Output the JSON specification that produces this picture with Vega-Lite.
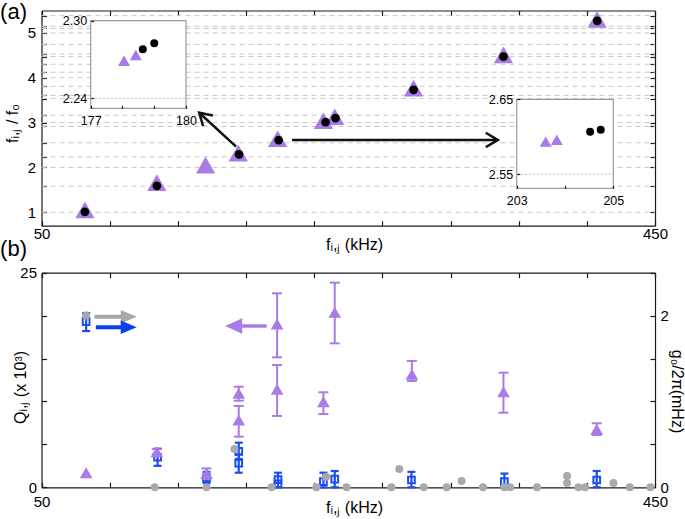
{
"$schema": "https://vega.github.io/schema/vega-lite/v6.json",
"width": 685, "height": 519, "autosize": "none", "padding": 0,
"background": "white",
"config": {
  "view": {"stroke": null},
  "font": "Liberation Sans",
  "axis": {"grid": false, "domainColor": "#1a1a1a", "domainWidth": 1.2, "tickColor": "#1a1a1a", "tickWidth": 1.2, "tickSize": -5,
    "labelFont": "Liberation Sans", "labelFontSize": 15, "labelColor": "#000000",
    "titleFont": "Liberation Sans", "titleFontSize": 16, "titleFontWeight": "normal", "titleColor": "#000000",
    "labelOverlap": false, "labelFlush": false, "labelBound": false, "labelPadding": 10}
},
"datasets": {
  "theory": [{"r":1},{"r":1.581},{"r":2},{"r":2.236},{"r":2.55},{"r":2.915},{"r":3},{"r":3.162},{"r":3.536},{"r":3.606},{"r":3.808},{"r":4},{"r":4.123},{"r":4.301},{"r":4.472},{"r":4.528},{"r":4.743},{"r":5},{"r":5.099},{"r":5.148},{"r":5.385}],
  "triA": [{"f":78.3,"r":1.05},{"f":125.2,"r":1.66},{"f":157.0,"r":2.05},{"f":178.3,"r":2.32},{"f":204.0,"r":2.64},{"f":233.8,"r":3.04},{"f":241.2,"r":3.13},{"f":292.6,"r":3.77},{"f":351.2,"r":4.51},{"f":412.3,"r":5.3}],
  "circA": [{"f":78.3,"r":1.01},{"f":125.2,"r":1.59},{"f":178.8,"r":2.29},{"f":204.6,"r":2.61},{"f":235.2,"r":3.01},{"f":241.7,"r":3.1},{"f":292.6,"r":3.73},{"f":351.2,"r":4.47},{"f":412.3,"r":5.27}],
  "arrowsA": [{"f1":176.9,"r1":2.462,"f2":152.8,"r2":3.22,"ang":222.6},{"f1":213.3,"r1":2.612,"f2":347.5,"r2":2.612,"ang":0}],
  "panelLabels": [{"t":"(a)","f":23,"r":5.47},{"t":"(b)","f":23,"r":0.18}],
  "ins1frame": [{"x0":177,"x1":180,"y0":2.2323,"y1":2.3}],
  "ins1ref": [{"r":2.24}],
  "ins1t": [{"f":178.05,"r":2.269},{"f":178.42,"r":2.2735}],
  "ins1c": [{"f":178.64,"r":2.2779},{"f":179.0,"r":2.2825}],
  "ins2frame": [{"x0":203,"x1":205,"y0":2.5313,"y1":2.65}],
  "ins2ref": [{"r":2.55}],
  "ins2t": [{"f":203.6,"r":2.5935},{"f":203.83,"r":2.5961}],
  "ins2c": [{"f":204.52,"r":2.6068},{"f":204.74,"r":2.6093}],
  "Q": [{"f":79.1,"q":1.7},{"f":125.2,"q":4.15},{"f":157.6,"q":1.63},{"f":178.6,"q":10.95},{"f":178.6,"q":7.84},{"f":203.6,"q":19.02},{"f":203.6,"q":11.42},{"f":233.8,"q":9.97},{"f":241.2,"q":20.38},{"f":291.5,"q":13.16},{"f":351.2,"q":11.14},{"f":412.0,"q":6.76}],
  "QErr": [{"f":125.2,"lo":3.85,"hi":4.45},{"f":157.6,"lo":1.0,"hi":2.2},{"f":178.6,"lo":10.09,"hi":11.72},{"f":178.6,"lo":5.9,"hi":9.47},{"f":203.6,"lo":15.14,"hi":22.6},{"f":203.6,"lo":8.31,"hi":14.25},{"f":233.8,"lo":8.54,"hi":11.07},{"f":241.2,"lo":16.77,"hi":23.84},{"f":291.5,"lo":12.38,"hi":14.72},{"f":351.2,"lo":8.69,"hi":13.35},{"f":412.0,"lo":6.09,"hi":7.46}],
  "G": [{"f":79.1,"g":1.93},{"f":125.7,"g":0.35},{"f":157.6,"g":0.11},{"f":178.6,"g":0.42},{"f":178.6,"g":0.28},{"f":204.2,"g":0.09},{"f":204.2,"g":0.04},{"f":233.8,"g":0.065},{"f":241.2,"g":0.095},{"f":291.2,"g":0.085},{"f":351.8,"g":0.065},{"f":412.0,"g":0.085}],
  "GErr": [{"f":79.1,"lo":1.82,"hi":2.03},{"f":125.7,"lo":0.25,"hi":0.45},{"f":157.6,"lo":0.05,"hi":0.18},{"f":178.6,"lo":0.33,"hi":0.52},{"f":178.6,"lo":0.17,"hi":0.38},{"f":204.2,"lo":0.0,"hi":0.17},{"f":233.8,"lo":0.0,"hi":0.17},{"f":241.2,"lo":0.0,"hi":0.19},{"f":291.2,"lo":0.0,"hi":0.18},{"f":351.8,"lo":0.0,"hi":0.16},{"f":412.0,"lo":0.0,"hi":0.19}],
  "gray": [{"f":79.1,"g":2.0},{"f":123.8,"g":0},{"f":157.6,"g":0},{"f":175.8,"g":0.446},{"f":200.0,"g":0},{"f":229.2,"g":0},{"f":235.5,"g":0.124},{"f":248.9,"g":0},{"f":278.1,"g":0},{"f":283.3,"g":0.213},{"f":299.2,"g":0},{"f":314.2,"g":0},{"f":323.9,"g":0.073},{"f":337.8,"g":0},{"f":351.8,"g":0},{"f":355.5,"g":0},{"f":373.1,"g":0},{"f":392.7,"g":0.132},{"f":392.7,"g":0.05},{"f":400.1,"g":0},{"f":404.4,"g":0},{"f":422.9,"g":0.05},{"f":433.6,"g":0},{"f":447.0,"g":0}],
  "arrowGray": [{"f1":84.5,"f2":104,"fh":106.9,"g":1.987}],
  "arrowBlue": [{"f1":85.4,"f2":104,"fh":106.9,"g":1.864}],
  "arrowPurple": [{"f1":196.8,"f2":178,"fh":175.3,"q":18.79}]
},
"layer": [
  {
    "layer": [
      {"data":{"name":"theory"},"mark":{"type":"rule","color":"#c8c8c8","strokeWidth":1,"strokeDash":[5,4]},
       "encoding":{"x":{"datum":50,"type":"quantitative","scale":{"domain":[50,450],"range":[41.5,655],"nice":false,"zero":false},"axis":null},"x2":{"datum":450},
                   "y":{"field":"r","type":"quantitative","scale":{"domain":[0.7,5.5],"range":[225.7,10.5],"nice":false,"zero":false},"axis":null}}},
      {"data":{"name":"arrowsA"},"mark":{"type":"rule","color":"#111111","strokeWidth":2.5},
       "encoding":{"x":{"field":"f1","type":"quantitative","scale":{"domain":[50,450],"range":[41.5,655],"nice":false,"zero":false},"axis":null},"x2":{"field":"f2"},
                   "y":{"field":"r1","type":"quantitative","scale":{"domain":[0.7,5.5],"range":[225.7,10.5],"nice":false,"zero":false},"axis":null},"y2":{"field":"r2"}}},
      {"data":{"name":"arrowsA"},"mark":{"type":"point","shape":"M-1,-0.6L0,0L-1,0.6","filled":false,"color":"#111111","strokeWidth":2.5,"size":576,"opacity":1},
       "encoding":{"x":{"field":"f2","type":"quantitative","scale":{"domain":[50,450],"range":[41.5,655],"nice":false,"zero":false},"axis":null},
                   "y":{"field":"r2","type":"quantitative","scale":{"domain":[0.7,5.5],"range":[225.7,10.5],"nice":false,"zero":false},"axis":null},
                   "angle":{"field":"ang","type":"quantitative","scale":null}}},
      {"data":{"name":"triA"},"mark":{"type":"point","shape":"triangle-up","filled":true,"color":"#A97BE6","size":370,"opacity":1},
       "encoding":{"x":{"field":"f","type":"quantitative","scale":{"domain":[50,450],"range":[41.5,655],"nice":false,"zero":false},
                        "axis":{"orient":"bottom","offset":-293.3,"values":[50,94.444,138.889,183.333,227.778,272.222,316.667,361.111,405.556,450],"labelExpr":"datum.value == 50 ? '50' : (datum.value == 450 ? '450' : '')","labelPadding":6,"title":"fᵢ,ⱼ (kHz)","titleX":354,"titleY":11,"titleBaseline":"top","titleAlign":"center"}},
                   "y":{"field":"r","type":"quantitative","scale":{"domain":[0.7,5.5],"range":[225.7,10.5],"nice":false,"zero":false},
                        "axis":{"orient":"left","offset":-41.5,"values":[1,1.581,2,2.236,2.55,2.915,3,3.162,3.536,3.606,3.808,4,4.123,4.301,4.472,4.528,4.743,5,5.099,5.148,5.385],"labelExpr":"floor(datum.value) == datum.value ? format(datum.value, 'd') : ''","labelPadding":11,"title":"fᵢ,ⱼ / f₀","titleX":-29,"titleY":123,"titleAngle":-90,"titleBaseline":"middle","titleAlign":"center"}}}},
      {"data":{"name":"circA"},"mark":{"type":"point","shape":"circle","filled":true,"color":"#000000","size":76,"opacity":1},
       "encoding":{"x":{"field":"f","type":"quantitative","scale":{"domain":[50,450],"range":[41.5,655],"nice":false,"zero":false},
                        "axis":{"orient":"top","offset":-10.5,"values":[50,94.444,138.889,183.333,227.778,272.222,316.667,361.111,405.556,450],"labels":false,"title":null}},
                   "y":{"field":"r","type":"quantitative","scale":{"domain":[0.7,5.5],"range":[225.7,10.5],"nice":false,"zero":false},
                        "axis":{"orient":"right","offset":-30,"values":[1,1.581,2,2.236,2.55,2.915,3,3.162,3.536,3.606,3.808,4,4.123,4.301,4.472,4.528,4.743,5,5.099,5.148,5.385],"labels":false,"title":null}}}},
      {"data":{"name":"panelLabels"},"mark":{"type":"text","align":"left","baseline":"middle","fontSize":22,"font":"Liberation Sans","color":"#000000"},
       "encoding":{"x":{"field":"f","type":"quantitative","scale":{"domain":[50,450],"range":[41.5,655],"nice":false,"zero":false},"axis":null},
                   "y":{"field":"r","type":"quantitative","scale":{"domain":[0.7,5.5],"range":[225.7,10.5],"nice":false,"zero":false},"axis":null},
                   "text":{"field":"t"}}}
    ],
    "resolve": {"axis": {"x": "independent", "y": "independent"}}
  },
  {
    "layer": [
      {"data":{"name":"ins1frame"},"mark":{"type":"rect","fill":"white","stroke":"#9a9a9a","strokeWidth":1.2},
       "encoding":{"x":{"field":"x0","type":"quantitative","scale":{"domain":[177,180],"range":[90.7,186],"nice":false,"zero":false},
                        "axis":{"orient":"bottom","offset":-410.7,"values":[177,178,179,180],"labelExpr":"datum.value == 177 ? '177' : (datum.value == 180 ? '180' : '')","labelFontSize":12.5,"labelPadding":9,"tickSize":-3,"domain":false,"title":null,"zindex":1}},
                   "x2":{"field":"x1"},
                   "y":{"field":"y0","type":"quantitative","scale":{"domain":[2.2323,2.3],"range":[108.3,20.7],"nice":false,"zero":false},
                        "axis":{"orient":"left","offset":-90.7,"values":[2.24,2.3],"labelExpr":"format(datum.value, '.2f')","labelFontSize":12.5,"labelPadding":7,"tickSize":-3,"domain":false,"title":null,"zindex":1}},
                   "y2":{"field":"y1"}}},
      {"data":{"name":"ins1ref"},"mark":{"type":"rule","color":"#bbbbbb","strokeWidth":1,"strokeDash":[2,2]},
       "encoding":{"x":{"datum":177,"type":"quantitative","scale":{"domain":[177,180],"range":[90.7,186],"nice":false,"zero":false},"axis":null},"x2":{"datum":180},
                   "y":{"field":"r","type":"quantitative","scale":{"domain":[2.2323,2.3],"range":[108.3,20.7],"nice":false,"zero":false},"axis":null}}},
      {"data":{"name":"ins1t"},"mark":{"type":"point","shape":"triangle-up","filled":true,"color":"#A97BE6","size":144,"opacity":1},
       "encoding":{"x":{"field":"f","type":"quantitative","scale":{"domain":[177,180],"range":[90.7,186],"nice":false,"zero":false},"axis":null},
                   "y":{"field":"r","type":"quantitative","scale":{"domain":[2.2323,2.3],"range":[108.3,20.7],"nice":false,"zero":false},"axis":null}}},
      {"data":{"name":"ins1c"},"mark":{"type":"point","shape":"circle","filled":true,"color":"#000000","size":64,"opacity":1},
       "encoding":{"x":{"field":"f","type":"quantitative","scale":{"domain":[177,180],"range":[90.7,186],"nice":false,"zero":false},"axis":null},
                   "y":{"field":"r","type":"quantitative","scale":{"domain":[2.2323,2.3],"range":[108.3,20.7],"nice":false,"zero":false},"axis":null}}}
    ],
    "resolve": {"axis": {"x": "independent", "y": "independent"}}
  },
  {
    "layer": [
      {"data":{"name":"ins2frame"},"mark":{"type":"rect","fill":"white","stroke":"#9a9a9a","strokeWidth":1.2},
       "encoding":{"x":{"field":"x0","type":"quantitative","scale":{"domain":[203,205],"range":[516.7,613.3],"nice":false,"zero":false},
                        "axis":{"orient":"bottom","offset":-330.7,"values":[203,204,205],"labelExpr":"datum.value == 203 ? '203' : (datum.value == 205 ? '205' : '')","labelFontSize":12.5,"labelPadding":9,"tickSize":-3,"domain":false,"title":null,"zindex":1}},
                   "x2":{"field":"x1"},
                   "y":{"field":"y0","type":"quantitative","scale":{"domain":[2.5313,2.65],"range":[188.3,99.3],"nice":false,"zero":false},
                        "axis":{"orient":"left","offset":-516.7,"values":[2.55,2.65],"labelExpr":"format(datum.value, '.2f')","labelFontSize":12.5,"labelPadding":7,"tickSize":-3,"domain":false,"title":null,"zindex":1}},
                   "y2":{"field":"y1"}}},
      {"data":{"name":"ins2ref"},"mark":{"type":"rule","color":"#bbbbbb","strokeWidth":1,"strokeDash":[2,2]},
       "encoding":{"x":{"datum":203,"type":"quantitative","scale":{"domain":[203,205],"range":[516.7,613.3],"nice":false,"zero":false},"axis":null},"x2":{"datum":205},
                   "y":{"field":"r","type":"quantitative","scale":{"domain":[2.5313,2.65],"range":[188.3,99.3],"nice":false,"zero":false},"axis":null}}},
      {"data":{"name":"ins2t"},"mark":{"type":"point","shape":"triangle-up","filled":true,"color":"#A97BE6","size":144,"opacity":1},
       "encoding":{"x":{"field":"f","type":"quantitative","scale":{"domain":[203,205],"range":[516.7,613.3],"nice":false,"zero":false},"axis":null},
                   "y":{"field":"r","type":"quantitative","scale":{"domain":[2.5313,2.65],"range":[188.3,99.3],"nice":false,"zero":false},"axis":null}}},
      {"data":{"name":"ins2c"},"mark":{"type":"point","shape":"circle","filled":true,"color":"#000000","size":64,"opacity":1},
       "encoding":{"x":{"field":"f","type":"quantitative","scale":{"domain":[203,205],"range":[516.7,613.3],"nice":false,"zero":false},"axis":null},
                   "y":{"field":"r","type":"quantitative","scale":{"domain":[2.5313,2.65],"range":[188.3,99.3],"nice":false,"zero":false},"axis":null}}}
    ],
    "resolve": {"axis": {"x": "independent", "y": "independent"}}
  },
  {
    "layer": [
      {
        "layer": [
          {"data":{"name":"GErr"},"mark":{"type":"rule","color":"#1c4df2","strokeWidth":2.2},
           "encoding":{"x":{"field":"f","type":"quantitative","scale":{"domain":[50,450],"range":[41.5,655],"nice":false,"zero":false},"axis":null},
                       "y":{"field":"lo","type":"quantitative","scale":{"domain":[0,2.5],"range":[487.3,272.7],"nice":false,"zero":false},"axis":null},"y2":{"field":"hi"}}},
          {"data":{"name":"GErr"},"mark":{"type":"tick","orient":"horizontal","color":"#1c4df2","size":8,"thickness":2.2,"opacity":1},
           "encoding":{"x":{"field":"f","type":"quantitative","scale":{"domain":[50,450],"range":[41.5,655],"nice":false,"zero":false},"axis":null},
                       "y":{"field":"lo","type":"quantitative","scale":{"domain":[0,2.5],"range":[487.3,272.7],"nice":false,"zero":false},"axis":null}}},
          {"data":{"name":"GErr"},"mark":{"type":"tick","orient":"horizontal","color":"#1c4df2","size":8,"thickness":2.2,"opacity":1},
           "encoding":{"x":{"field":"f","type":"quantitative","scale":{"domain":[50,450],"range":[41.5,655],"nice":false,"zero":false},"axis":null},
                       "y":{"field":"hi","type":"quantitative","scale":{"domain":[0,2.5],"range":[487.3,272.7],"nice":false,"zero":false},"axis":null}}},
          {"data":{"name":"G"},"mark":{"type":"point","shape":"square","filled":false,"color":"#1c4df2","strokeWidth":2,"size":45,"opacity":1},
           "encoding":{"x":{"field":"f","type":"quantitative","scale":{"domain":[50,450],"range":[41.5,655],"nice":false,"zero":false},"axis":null},
                       "y":{"field":"g","type":"quantitative","scale":{"domain":[0,2.5],"range":[487.3,272.7],"nice":false,"zero":false},"axis":null}}},
          {"data":{"name":"gray"},"mark":{"type":"point","shape":"circle","filled":true,"color":"#a9a9a9","size":64,"opacity":1},
           "encoding":{"x":{"field":"f","type":"quantitative","scale":{"domain":[50,450],"range":[41.5,655],"nice":false,"zero":false},
                            "axis":{"orient":"top","offset":-272.7,"values":[50,94.444,138.889,183.333,227.778,272.222,316.667,361.111,405.556,450],"labels":false,"title":null}},
                       "y":{"field":"g","type":"quantitative","scale":{"domain":[0,2.5],"range":[487.3,272.7],"nice":false,"zero":false},
                            "axis":{"orient":"right","offset":-30,"values":[0,0.5,1,1.5,2,2.5],"labelExpr":"datum.value == 0 ? '0' : (datum.value == 2 ? '2' : '')","labelPadding":10,"title":"g₀/2π(mHz)","titleX":21.5,"titleY":391,"titleAngle":90,"titleBaseline":"middle","titleAlign":"center"}}}},
          {"data":{"name":"arrowGray"},"mark":{"type":"rule","color":"#a9a9a9","strokeWidth":4},
           "encoding":{"x":{"field":"f1","type":"quantitative","scale":{"domain":[50,450],"range":[41.5,655],"nice":false,"zero":false},"axis":null},"x2":{"field":"f2"},
                       "y":{"field":"g","type":"quantitative","scale":{"domain":[0,2.5],"range":[487.3,272.7],"nice":false,"zero":false},"axis":null}}},
          {"data":{"name":"arrowGray"},"mark":{"type":"point","shape":"M1,0L-1,-0.85L-1,0.85Z","filled":true,"color":"#a9a9a9","size":256,"opacity":1},
           "encoding":{"x":{"field":"fh","type":"quantitative","scale":{"domain":[50,450],"range":[41.5,655],"nice":false,"zero":false},"axis":null},
                       "y":{"field":"g","type":"quantitative","scale":{"domain":[0,2.5],"range":[487.3,272.7],"nice":false,"zero":false},"axis":null}}},
          {"data":{"name":"arrowBlue"},"mark":{"type":"rule","color":"#0b3ff5","strokeWidth":4},
           "encoding":{"x":{"field":"f1","type":"quantitative","scale":{"domain":[50,450],"range":[41.5,655],"nice":false,"zero":false},"axis":null},"x2":{"field":"f2"},
                       "y":{"field":"g","type":"quantitative","scale":{"domain":[0,2.5],"range":[487.3,272.7],"nice":false,"zero":false},"axis":null}}},
          {"data":{"name":"arrowBlue"},"mark":{"type":"point","shape":"M1,0L-1,-0.85L-1,0.85Z","filled":true,"color":"#0b3ff5","size":256,"opacity":1},
           "encoding":{"x":{"field":"fh","type":"quantitative","scale":{"domain":[50,450],"range":[41.5,655],"nice":false,"zero":false},"axis":null},
                       "y":{"field":"g","type":"quantitative","scale":{"domain":[0,2.5],"range":[487.3,272.7],"nice":false,"zero":false},"axis":null}}}
        ],
        "resolve": {"axis": {"x": "independent", "y": "independent"}}
      },
      {
        "layer": [
          {"data":{"name":"QErr"},"mark":{"type":"rule","color":"#A97BE6","strokeWidth":2},
           "encoding":{"x":{"field":"f","type":"quantitative","scale":{"domain":[50,450],"range":[41.5,655],"nice":false,"zero":false},"axis":null},
                       "y":{"field":"lo","type":"quantitative","scale":{"domain":[0,25],"range":[487.3,272.7],"nice":false,"zero":false},"axis":null},"y2":{"field":"hi"}}},
          {"data":{"name":"QErr"},"mark":{"type":"tick","orient":"horizontal","color":"#A97BE6","size":10,"thickness":2,"opacity":1},
           "encoding":{"x":{"field":"f","type":"quantitative","scale":{"domain":[50,450],"range":[41.5,655],"nice":false,"zero":false},"axis":null},
                       "y":{"field":"lo","type":"quantitative","scale":{"domain":[0,25],"range":[487.3,272.7],"nice":false,"zero":false},"axis":null}}},
          {"data":{"name":"QErr"},"mark":{"type":"tick","orient":"horizontal","color":"#A97BE6","size":10,"thickness":2,"opacity":1},
           "encoding":{"x":{"field":"f","type":"quantitative","scale":{"domain":[50,450],"range":[41.5,655],"nice":false,"zero":false},"axis":null},
                       "y":{"field":"hi","type":"quantitative","scale":{"domain":[0,25],"range":[487.3,272.7],"nice":false,"zero":false},"axis":null}}},
          {"data":{"name":"Q"},"mark":{"type":"point","shape":"triangle-up","filled":true,"color":"#A97BE6","size":160,"opacity":1},
           "encoding":{"x":{"field":"f","type":"quantitative","scale":{"domain":[50,450],"range":[41.5,655],"nice":false,"zero":false},
                            "axis":{"orient":"bottom","offset":-31.7,"values":[50,94.444,138.889,183.333,227.778,272.222,316.667,361.111,405.556,450],"labelExpr":"datum.value == 50 ? '50' : (datum.value == 450 ? '450' : '')","labelPadding":12.5,"title":"fᵢ,ⱼ (kHz)","titleX":354,"titleY":12,"titleBaseline":"top","titleAlign":"center"}},
                       "y":{"field":"q","type":"quantitative","scale":{"domain":[0,25],"range":[487.3,272.7],"nice":false,"zero":false},
                            "axis":{"orient":"left","offset":-41.5,"values":[0,5,10,15,20,25],"labelExpr":"datum.value == 0 ? '0' : (datum.value == 25 ? '25' : '')","labelPadding":10,"title":"Qᵢ,ⱼ (x 10³)","titleX":-21,"titleY":387,"titleAngle":-90,"titleBaseline":"middle","titleAlign":"center"}}}},
          {"data":{"name":"arrowPurple"},"mark":{"type":"rule","color":"#A97BE6","strokeWidth":3.5},
           "encoding":{"x":{"field":"f1","type":"quantitative","scale":{"domain":[50,450],"range":[41.5,655],"nice":false,"zero":false},"axis":null},"x2":{"field":"f2"},
                       "y":{"field":"q","type":"quantitative","scale":{"domain":[0,25],"range":[487.3,272.7],"nice":false,"zero":false},"axis":null}}},
          {"data":{"name":"arrowPurple"},"mark":{"type":"point","shape":"M-1,0L1,-0.9L1,0.9Z","filled":true,"color":"#A97BE6","size":289,"opacity":1},
           "encoding":{"x":{"field":"fh","type":"quantitative","scale":{"domain":[50,450],"range":[41.5,655],"nice":false,"zero":false},"axis":null},
                       "y":{"field":"q","type":"quantitative","scale":{"domain":[0,25],"range":[487.3,272.7],"nice":false,"zero":false},"axis":null}}}
        ],
        "resolve": {"axis": {"x": "independent", "y": "independent"}}
      }
    ],
    "resolve": {"scale": {"y": "independent"}, "axis": {"x": "independent", "y": "independent"}}
  }
],
"resolve": {"scale": {"x": "independent", "y": "independent"}, "axis": {"x": "independent", "y": "independent"}}
}
